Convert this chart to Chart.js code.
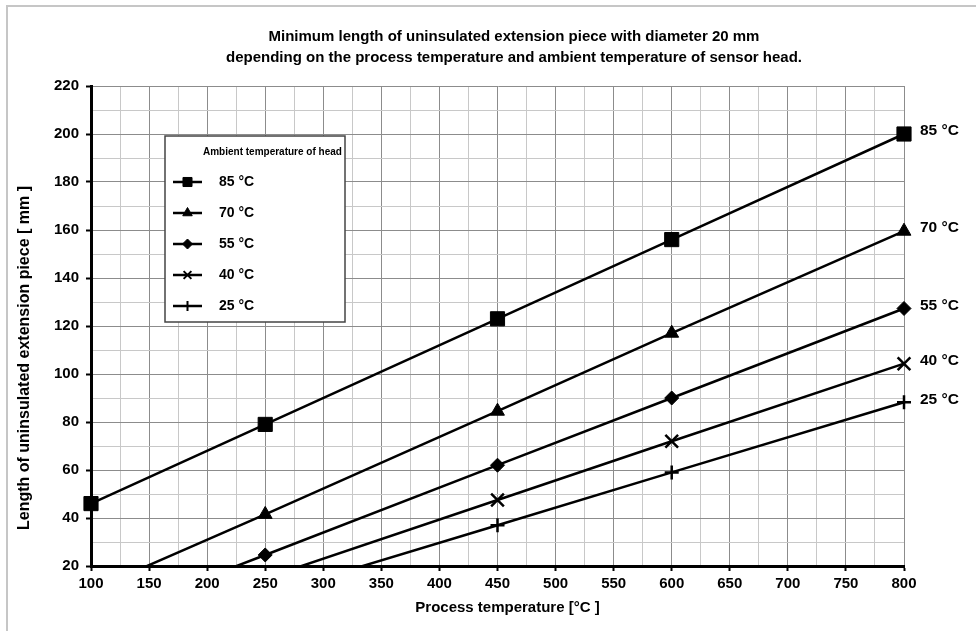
<!DOCTYPE html>
<html><head><meta charset="utf-8">
<style>html,body{margin:0;padding:0;background:#fff;overflow:hidden}#wrap{width:976px;height:631px;position:relative}</style>
<script src="https://cdn.jsdelivr.net/npm/chart.js@4.4.0/dist/chart.umd.min.js"></script>
</head><body><div id="wrap"><canvas id="c" width="976" height="631"></canvas></div>
<script>
// ---- data ----
const processTemps = [100, 250, 450, 600, 800];
const seriesLabels = ['85 °C', '70 °C', '55 °C', '40 °C', '25 °C'];
const len85 = [46, 79, 123, 156, 200];
const len70 = [9.8, 41.5, 84.5, 117, 159.5];
const len55 = [-3.4, 24.6, 62, 90, 127.3];
const len40 = [null, 14.9, 47.5, 72, 104.3];
const len25 = [null, 7.7, 37, 59, 88.2];
const titleLines = ['Minimum length of uninsulated extension piece with diameter 20 mm',
  'depending on the process temperature and ambient temperature of sensor head.'];
const xTitle = 'Process temperature [°C ]';
const yTitle = 'Length of uninsulated extension piece [ mm ]';
const legendTitle = 'Ambient temperature of head';
const xMin = 100, xMax = 800, xStep = 25, xLabelStep = 50;
const yMin = 20, yMax = 220, yStep = 10, yLabelStep = 20;

// ---- styles ----
const FONT = '"Liberation Sans", Arial, Helvetica, sans-serif';
const pointStyles = ['rect', 'triangle', 'rectRot', 'crossRot', 'cross'];
const pointRadii = [10, 8, 7, 9, 7];
const legendRadii = [6.4, 5.5, 5, 5.5, 5];
const allSeries = [len85, len70, len55, len40, len25];

const datasets = allSeries.map((arr, i) => ({
  label: seriesLabels[i],
  data: processTemps.map((x, j) => ({x: x, y: arr[j]})).filter(p => p.y !== null),
  borderColor: '#000',
  backgroundColor: '#000',
  borderWidth: 2.5,
  pointStyle: pointStyles[i],
  pointRadius: c => (c.raw && c.raw.y >= yMin) ? pointRadii[i] : 0,
  pointBackgroundColor: '#000',
  pointBorderColor: '#000',
  pointBorderWidth: (pointStyles[i].indexOf('cross') === 0) ? 2.5 : 1,
  tension: 0,
  fill: false,
  clip: {left: 15, right: 15, top: 15, bottom: 1}
}));

const framePlugin = {
  id: 'frame',
  beforeDraw(chart) {
    const ctx = chart.ctx;
    ctx.save();
    ctx.fillStyle = '#fff';
    ctx.fillRect(0, 0, chart.width, chart.height);
    ctx.strokeStyle = '#c6c6c6';
    ctx.lineWidth = 2;
    ctx.beginPath();
    ctx.moveTo(7, chart.height);
    ctx.lineTo(7, 6);
    ctx.lineTo(chart.width, 6);
    ctx.stroke();
    ctx.restore();
  }
};

const titlesPlugin = {
  id: 'titles',
  afterDraw(chart) {
    const ctx = chart.ctx, ca = chart.chartArea;
    ctx.save();
    ctx.fillStyle = '#000';
    ctx.textAlign = 'center';
    ctx.textBaseline = 'middle';
    ctx.font = 'bold 15px ' + FONT;
    titleLines.forEach((t, i) => ctx.fillText(t, 514, 37 + i * 21));
    ctx.font = 'bold 15px ' + FONT;
    ctx.fillText(xTitle, (ca.left + ca.right) / 2 + 10, ca.bottom + 42);
    ctx.translate(25, (ca.top + ca.bottom) / 2 + 32);
    ctx.rotate(-Math.PI / 2);
    ctx.font = 'bold 16px ' + FONT;
    ctx.fillText(yTitle, 0, 0);
    ctx.restore();
  }
};

const legendPlugin = {
  id: 'boxLegend',
  afterDatasetsDraw(chart) {
    const ctx = chart.ctx, ca = chart.chartArea;
    const bx = ca.left + 74, by = ca.top + 50, bw = 180, bh = 186;
    ctx.save();
    ctx.fillStyle = '#fff';
    ctx.fillRect(bx, by, bw, bh);
    ctx.strokeStyle = '#444';
    ctx.lineWidth = 1.5;
    ctx.strokeRect(bx, by, bw, bh);
    ctx.fillStyle = '#000';
    ctx.textBaseline = 'middle';
    ctx.textAlign = 'left';
    ctx.font = 'bold 10px ' + FONT;
    ctx.fillText(legendTitle, bx + 38, by + 16);
    chart.data.datasets.forEach((ds, i) => {
      const y = by + 46 + i * 31;
      ctx.strokeStyle = '#000';
      ctx.lineWidth = 2.5;
      ctx.beginPath();
      ctx.moveTo(bx + 8, y);
      ctx.lineTo(bx + 37, y);
      ctx.stroke();
      ctx.fillStyle = '#000';
      ctx.lineWidth = ds.pointStyle.indexOf('cross') === 0 ? 2 : 1;
      Chart.helpers.drawPoint(ctx, {pointStyle: ds.pointStyle, radius: legendRadii[i], borderWidth: ctx.lineWidth, rotation: 0}, bx + 22.5, y);
      ctx.font = 'bold 14px ' + FONT;
      ctx.fillText(ds.label, bx + 54, y);
    });
    ctx.restore();
  }
};

const endLabelPlugin = {
  id: 'endLabels',
  afterDatasetsDraw(chart) {
    const ctx = chart.ctx;
    ctx.save();
    ctx.fillStyle = '#000';
    ctx.font = 'bold 15.5px ' + FONT;
    ctx.textBaseline = 'middle';
    ctx.textAlign = 'left';
    chart.data.datasets.forEach((ds, i) => {
      const meta = chart.getDatasetMeta(i);
      const last = meta.data[meta.data.length - 1];
      ctx.fillText(ds.label, last.x + 16, last.y - 3);
    });
    ctx.restore();
  }
};

new Chart(document.getElementById('c'), {
  type: 'line',
  data: {datasets: datasets},
  plugins: [framePlugin, legendPlugin, endLabelPlugin, titlesPlugin],
  options: {
    responsive: false,
    animation: false,
    events: [],
    devicePixelRatio: 1,
    layout: {padding: {left: 13, right: 72, top: 86, bottom: 11}},
    plugins: {
      legend: {display: false},
      tooltip: {enabled: false},
      title: {display: false}
    },
    scales: {
      x: {
        type: 'linear', min: xMin, max: xMax,
        afterFit: s => { s.height = 54; },
        ticks: {
          stepSize: xStep, autoSkip: false, maxRotation: 0, padding: 4, color: '#000',
          font: {family: FONT, size: 15, weight: 'bold'},
          callback: v => (v % xLabelStep === 0 ? String(v) : '')
        },
        grid: {
          color: c => (c.tick && c.tick.value % xLabelStep === 0) ? '#8c8c8c' : '#c8c8c8',
          lineWidth: 1,
          tickLength: 5,
          tickWidth: 2,
          tickColor: c => (c.tick && c.tick.value % xLabelStep === 0) ? '#000' : 'rgba(0,0,0,0)'
        },
        border: {color: '#000', width: 3}
      },
      y: {
        type: 'linear', min: yMin, max: yMax,
        afterFit: s => { s.width = 78; },
        ticks: {
          stepSize: yStep, autoSkip: false, padding: 7, color: '#000',
          font: {family: FONT, size: 15, weight: 'bold'},
          callback: v => (v % yLabelStep === 0 ? String(v) : '')
        },
        grid: {
          color: c => (c.tick && c.tick.value % yLabelStep === 0) ? '#8c8c8c' : '#c8c8c8',
          lineWidth: 1,
          tickLength: 5,
          tickWidth: 2,
          tickColor: c => (c.tick && c.tick.value % yLabelStep === 0) ? '#000' : 'rgba(0,0,0,0)'
        },
        border: {color: '#000', width: 3}
      }
    }
  }
});
</script></body></html>
